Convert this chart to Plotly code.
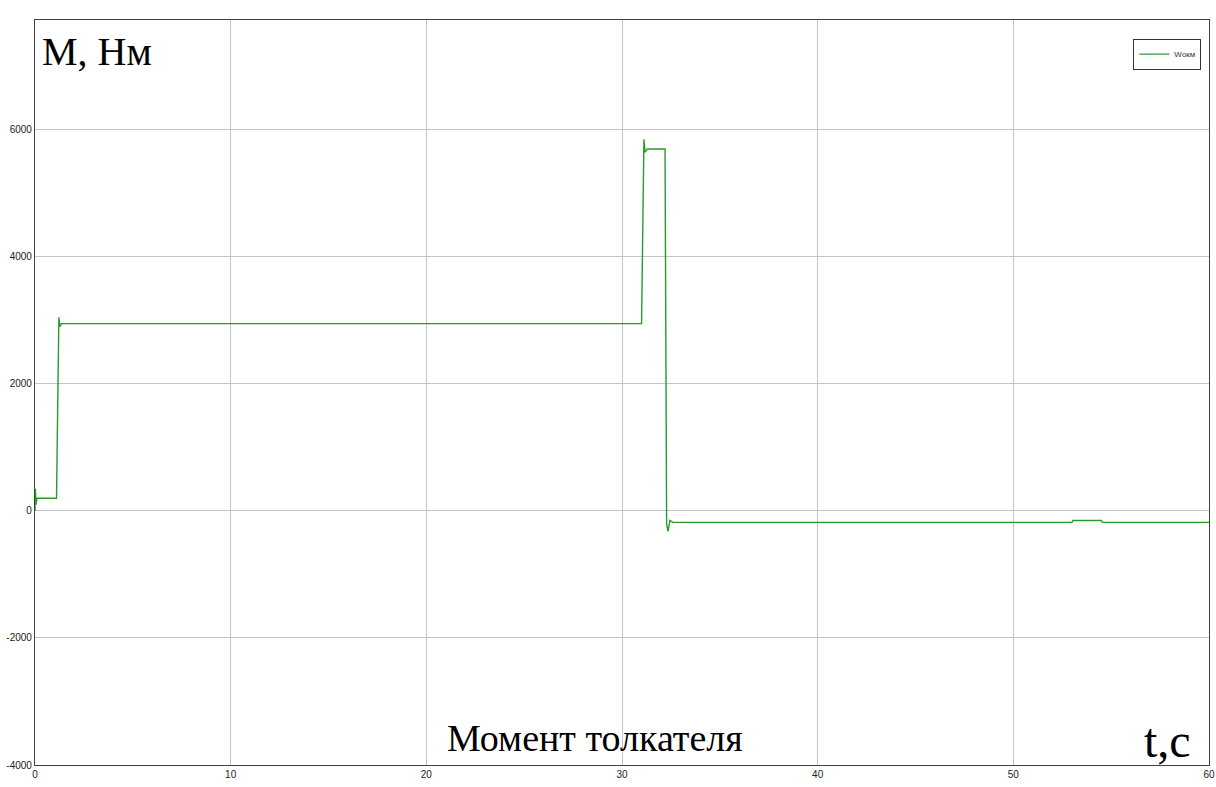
import plotly.graph_objects as go

# time (s) and torque (N·m) breakpoints
t_vals = [0, 0.02, 0.05, 0.1, 1.1, 1.18, 1.22, 1.27, 1.35, 31.0, 31.08, 31.12, 31.18, 31.3,
          32.2, 32.28, 32.35, 32.45, 32.6, 53.0, 53.05, 54.5, 54.55, 60]
m_vals = [0, 350, 100, 200, 200, 2950, 3050, 2900, 2950, 2950, 5700, 5850, 5650, 5700,
          5700, -200, -320, -150, -180, -180, -150, -150, -180, -180]

x_ticks = [0, 10, 20, 30, 40, 50, 60]
y_ticks = [-4000, -2000, 0, 2000, 4000, 6000]
y_tick_labels = ["-4000", "-2000", "0", "2000", "4000", "6000"]
series_name = "Wокм"

fig = go.Figure()
fig.add_trace(go.Scatter(x=t_vals, y=m_vals, mode="lines", name=series_name,
                         line=dict(color="#2a9a2a", width=1.4)))

axis_common = dict(showline=True, linecolor="#404040", linewidth=1.2, mirror=True,
                   showgrid=True, gridcolor="#c4c4c4", gridwidth=1, zeroline=False,
                   ticks="", automargin=False,
                   tickfont=dict(family="Liberation Sans Narrow, Arial Narrow, Liberation Sans",
                                 size=10, color="#222"))
fig.update_xaxes(range=[0, 60], tickvals=x_ticks, **axis_common)
fig.update_yaxes(range=[-4000, 7730], tickvals=y_ticks, ticktext=y_tick_labels, **axis_common)

fig.update_layout(
    width=1216, height=787,
    margin=dict(l=35, r=7, t=20, b=22),
    paper_bgcolor="white", plot_bgcolor="white",
    showlegend=True,
    legend=dict(x=0.9935, y=0.975, xanchor="right", yanchor="top",
                bordercolor="#333", borderwidth=1, bgcolor="white",
                font=dict(family="Liberation Sans Narrow, Liberation Sans", size=8, color="#333"),
                itemwidth=30, tracegroupgap=0),
    annotations=[
        dict(text="M, Нм", x=0.004, y=0.99, xref="paper", yref="paper",
             xanchor="left", yanchor="top", showarrow=False,
             font=dict(family="Liberation Serif", size=40, color="black")),
        dict(text="Момент толкателя", x=0.477, y=0.005, xref="paper", yref="paper",
             xanchor="center", yanchor="bottom", showarrow=False,
             font=dict(family="Liberation Serif", size=38, color="black")),
        dict(text="t,с", x=0.986, y=-0.005, xref="paper", yref="paper",
             xanchor="right", yanchor="bottom", showarrow=False,
             font=dict(family="Liberation Serif", size=48, color="black")),
    ],
)

fig.write_html("out.html", config={"displayModeBar": False},
               post_script="document.body.style.margin='0';document.body.style.overflow='hidden';")
